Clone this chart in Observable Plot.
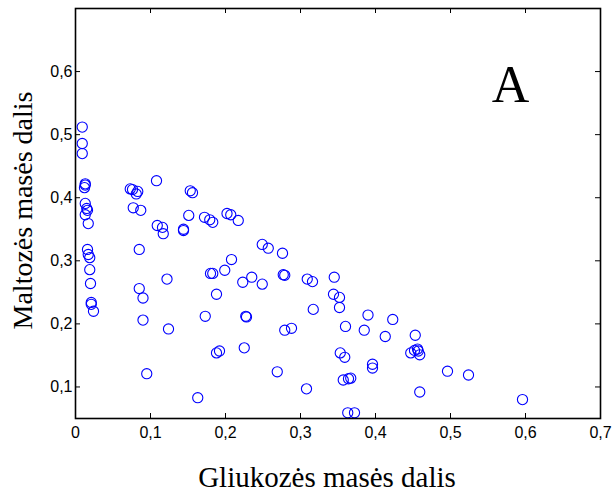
<!DOCTYPE html>
<html>
<head>
<meta charset="utf-8">
<script src="https://cdn.jsdelivr.net/npm/d3@7"></script>
<script src="https://cdn.jsdelivr.net/npm/@observablehq/plot@0.6"></script>
<style>
  html, body { margin: 0; padding: 0; background: #fff; }
  #chart svg { display: block; }
</style>
</head>
<body>
<div id="chart"></div>
<script>
// Glucose mass fraction (x)
const gluc = [
  0.009, 0.009, 0.009, 0.013, 0.013, 0.012, 0.013, 0.015, 0.016, 0.013,
  0.017, 0.016, 0.017, 0.019, 0.019, 0.020, 0.021, 0.021, 0.024, 0.073,
  0.076, 0.083, 0.081, 0.108, 0.077, 0.087, 0.109, 0.116, 0.117, 0.144,
  0.144, 0.153, 0.156, 0.151, 0.172, 0.179, 0.183, 0.202, 0.207, 0.217,
  0.085, 0.208, 0.199, 0.180, 0.183, 0.122, 0.223, 0.235, 0.249, 0.257,
  0.276, 0.249, 0.277, 0.279, 0.309, 0.316, 0.345, 0.344, 0.352, 0.352,
  0.317, 0.390, 0.423, 0.227, 0.228, 0.279, 0.288, 0.360, 0.385, 0.413,
  0.453, 0.225, 0.353, 0.359, 0.447, 0.452, 0.456, 0.457, 0.459, 0.396,
  0.396, 0.269, 0.357, 0.364, 0.367, 0.308, 0.459, 0.363, 0.372, 0.085,
  0.090, 0.090, 0.124, 0.095, 0.163, 0.173, 0.188, 0.188, 0.192, 0.496,
  0.524, 0.596
];
// Maltose mass fraction (y)
const malt = [
  0.512, 0.486, 0.470, 0.422, 0.420, 0.416, 0.391, 0.383, 0.380, 0.373,
  0.359, 0.318, 0.310, 0.305, 0.286, 0.264, 0.234, 0.231, 0.220, 0.414,
  0.413, 0.410, 0.406, 0.427, 0.384, 0.380, 0.356, 0.353, 0.343, 0.350,
  0.348, 0.411, 0.408, 0.372, 0.369, 0.365, 0.361, 0.375, 0.373, 0.364,
  0.318, 0.302, 0.285, 0.280, 0.280, 0.271, 0.266, 0.274, 0.326, 0.320,
  0.312, 0.263, 0.278, 0.277, 0.271, 0.267, 0.274, 0.247, 0.242, 0.226,
  0.223, 0.214, 0.207, 0.212, 0.211, 0.190, 0.193, 0.196, 0.190, 0.180,
  0.182, 0.162, 0.154, 0.147, 0.154, 0.158, 0.160, 0.157, 0.151, 0.136,
  0.130, 0.124, 0.111, 0.113, 0.114, 0.097, 0.092, 0.059, 0.059, 0.256,
  0.241, 0.206, 0.192, 0.121, 0.083, 0.212, 0.247, 0.154, 0.157, 0.125,
  0.119, 0.080
];
const xTicks = [0, 0.1, 0.2, 0.3, 0.4, 0.5, 0.6, 0.7];
const yTicks = [0.1, 0.2, 0.3, 0.4, 0.5, 0.6];
const xLabel = "Gliukozės masės dalis";
const yLabel = "Maltozės masės dalis";
const panelLabel = "A";

const points = gluc.map((g, i) => ({x: g, y: malt[i]}));
const fmt = d => d === 0 ? "0" : d.toFixed(1).replace(".", ",");
const sans = "Liberation Sans, Arial, sans-serif";
const serif = "Liberation Serif, Times New Roman, serif";

const chart = Plot.plot({
  width: 614,
  height: 494,
  marginLeft: 75,
  marginRight: 14,
  marginTop: 8,
  marginBottom: 76,
  style: {background: "#fff", color: "#000", fontSize: "16px", fontFamily: sans},
  x: {domain: [0, 0.7]},
  y: {domain: [0.05, 0.7]},
  marks: [
    Plot.dot(points, {x: "x", y: "y", r: 5.1, stroke: "#0000ff", strokeWidth: 1.1, fill: "none"}),
    Plot.tickX(xTicks, {x: d => d, stroke: "#000", strokeWidth: 1, insetTop: 405}),
    Plot.tickX(xTicks, {x: d => d, stroke: "#000", strokeWidth: 1, insetBottom: 405}),
    Plot.tickY(yTicks, {y: d => d, stroke: "#000", strokeWidth: 1, insetRight: 520}),
    Plot.tickY(yTicks, {y: d => d, stroke: "#000", strokeWidth: 1, insetLeft: 520}),
    Plot.frame({stroke: "#000", strokeWidth: 1.6}),
    Plot.axisX(xTicks, {tickSize: 0, tickPadding: 8, tickFormat: fmt, fontSize: 16, label: null, fill: "#000"}),
    Plot.axisY(yTicks, {tickSize: 0, tickPadding: 3, tickFormat: fmt, fontSize: 16, label: null, fill: "#000"}),
    Plot.text([xLabel], {text: d => d, frameAnchor: "bottom", dx: -11, dy: 68, lineAnchor: "bottom", textAnchor: "middle", fontSize: 29, fontFamily: serif, fill: "#000"}),
    Plot.text([yLabel], {text: d => d, frameAnchor: "left", dx: -52, dy: -3, rotate: -90, lineAnchor: "middle", textAnchor: "middle", fontSize: 28, fontFamily: serif, fill: "#000"}),
    Plot.text([panelLabel], {text: d => d, frameAnchor: "top-left", dx: 435, dy: 93, lineAnchor: "bottom", textAnchor: "middle", fontSize: 52, fontFamily: serif, fill: "#000"})
  ]
});
document.getElementById("chart").appendChild(chart);
</script>
</body>
</html>
